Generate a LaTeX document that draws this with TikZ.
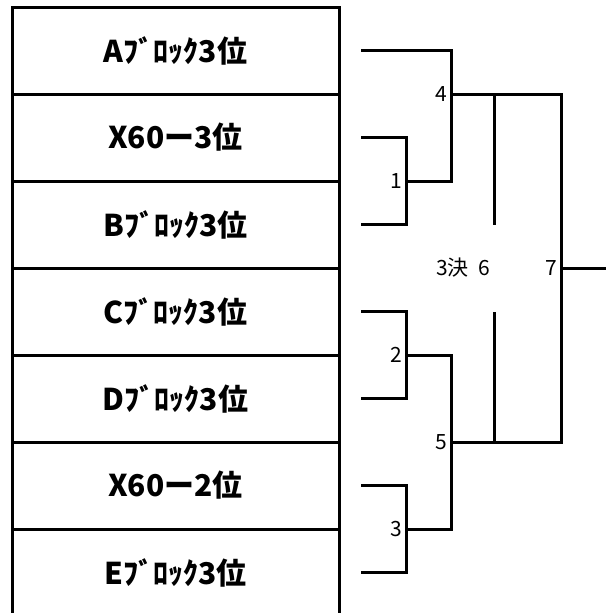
\documentclass[tikz,border=0pt]{standalone}
\usepackage{fontspec}
\setmainfont{Noto Sans CJK JP}
\begin{document}
\begin{tikzpicture}[x=1pt,y=-1pt,line width=3pt,
    team/.style={font=\fontsize{30}{30}\selectfont\bfseries, anchor=center},
    num/.style={font=\fontsize{21}{21}\selectfont, anchor=east, inner sep=2pt}]
    \def\rowH{87}
    \def\rowTop{7}

    \useasboundingbox (0,0) rectangle (606,613);
    \clip (0,0) rectangle (606,613);

    % team table
    \foreach \name/\txt [count=\i from 0] in {A/Aﾌﾞﾛｯｸ3位, Xc/X60ー3位, B/Bﾌﾞﾛｯｸ3位, C/Cﾌﾞﾛｯｸ3位, D/Dﾌﾞﾛｯｸ3位, Xb/X60ー2位, E/Eﾌﾞﾛｯｸ3位} {
        \draw (12,{\rowTop+\i*\rowH}) rectangle ++(327,\rowH);
        \node[team] (row\name) at (175.5,{\rowTop+(\i+0.5)*\rowH}) {\txt};
        \coordinate (e\name) at (361,{\rowTop+(\i+0.5)*\rowH});
    }

    % match points
    \coordinate (m1) at (406,{\rowTop+2*\rowH});
    \coordinate (m2) at (406,{\rowTop+4*\rowH});
    \coordinate (m3) at (406,{\rowTop+6*\rowH});
    \coordinate (m4) at (451,{\rowTop+\rowH});
    \coordinate (m5) at (451,{\rowTop+5*\rowH});
    \coordinate (m7) at (561,{\rowTop+3*\rowH});
    \coordinate (t1) at (494,{\rowTop+\rowH});
    \coordinate (t2) at (494,{\rowTop+5*\rowH});
    \coordinate (t6) at (494,{\rowTop+3*\rowH});
    \coordinate (win) at (606,{\rowTop+3*\rowH});

    % bracket
    \draw (eXc) -| (m1) |- (eB);
    \draw (eC) -| (m2) |- (eD);
    \draw (eXb) -| (m3) |- (eE);
    \draw (m1) -| (m4) |- (eA);
    \draw (m2) -| (m5);
    \draw (m3) -| (m5);
    \draw (m4) -| (m7) |- (m5);
    \draw (m7) -- (win);
    \draw (t1) -- (t1 |- eB);
    \draw (t2) -- (t2 |- eC);

    \node[num] (n1) at (m1) {1};
    \node[num] (n2) at (m2) {2};
    \node[num] (n3) at (m3) {3};
    \node[num] (n4) at (m4) {4};
    \node[num] (n5) at (m5) {5};
    \node[num] (n6) at (t6) {3決\hspace{10pt}6};
    \node[num] (n7) at (m7) {7};
\end{tikzpicture}
\end{document}
